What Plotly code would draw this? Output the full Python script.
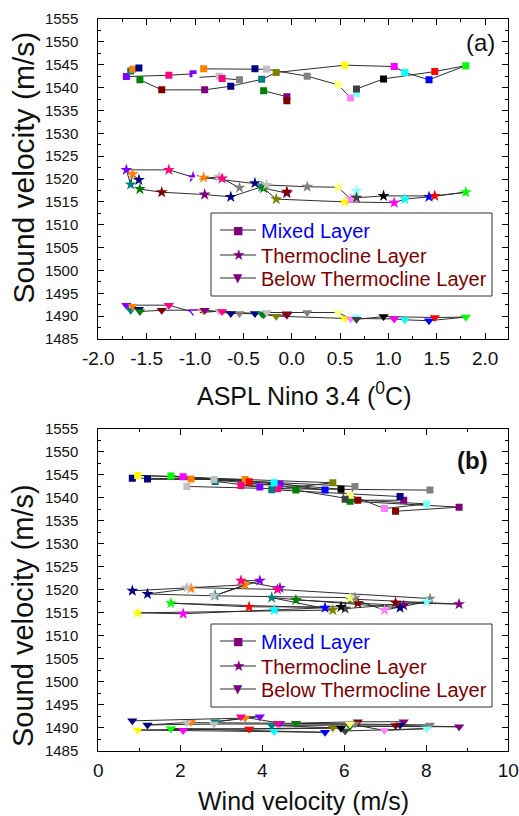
import plotly.graph_objects as go

# ---------------- data (one entry per record) ----------------
POINT_COLORS = [
    "#8000FF", "#008080", "#FF8000", "#000080", "#008000", "#800000", "#FF0080", "#8000FF",
    "#FFFFFF", "#FF8000", "#800080", "#C0C0C0", "#FF0080", "#808080", "#000080", "#000080",
    "#008080", "#008000", "#C0C0C0", "#808000", "#800080", "#800000", "#808080", "#FFFF00",
    "#FFFF80", "#FF80FF", "#80FFFF", "#404040", "#000000", "#FF00FF", "#00FFFF", "#0000FF",
    "#FF0000", "#00FF00",
]
NINO = [
    -1.71, -1.665, -1.644, -1.58, -1.57, -1.344, -1.27, -1.02,
    -0.99, -0.91, -0.90, -0.75, -0.72, -0.54, -0.63, -0.38,
    -0.31, -0.29, -0.26, -0.16, -0.05, -0.05, 0.16, 0.55,
    0.48, 0.61, 0.67, 0.67, 0.95, 1.06, 1.17, 1.42,
    1.48, 1.80,
]
WIND = [
    3.94, 2.85, 3.58, 0.83, 4.82, 6.33, 3.48, 4.43,
    None, 2.26, 7.45, 2.16, 4.37, 8.09, 7.36, 1.20,
    4.23, 6.14, 2.82, 5.72, 8.80, 7.25, 6.26, 0.96,
    6.14, 6.98, 8.01, 6.02, 5.92, 2.07, 4.29, 5.53,
    3.68, 1.77,
]
MIXED = [
    1542.4, 1543.6, 1544.0, 1544.3, 1541.7, 1539.5, 1542.7, 1543.0,
    1542.2, 1544.1, 1539.5, 1542.5, 1542.0, 1541.7, 1540.3, 1544.1,
    1541.8, 1539.3, 1544.0, 1543.3, 1538.0, 1537.1, 1542.5, 1544.9,
    1540.6, 1537.7, 1538.7, 1539.7, 1541.9, 1544.6, 1543.3, 1541.7,
    1543.5, 1544.8,
]
THERMO = [
    1522.0, 1518.8, 1521.1, 1519.8, 1517.8, 1517.1, 1522.0, 1520.4,
    1519.9, 1520.3, 1516.6, 1520.5, 1520.1, 1518.1, 1516.1, 1519.1,
    1518.3, 1518.0, 1518.7, 1515.6, 1516.9, 1517.2, 1518.3, 1515.0,
    1518.2, 1515.6, 1517.4, 1515.9, 1516.3, 1514.8, 1515.6, 1516.1,
    1516.3, 1517.1,
]
BELOW = [
    1492.4, 1491.3, 1492.1, 1491.5, 1491.0, 1491.3, 1492.4, 1491.0,
    1490.7, 1491.2, 1491.3, 1491.1, 1491.0, 1490.6, 1490.6, 1490.6,
    1490.5, 1490.3, 1490.8, 1490.0, 1490.2, 1490.5, 1490.8, 1489.5,
    1490.8, 1489.4, 1489.8, 1489.3, 1489.9, 1489.4, 1489.2, 1489.0,
    1489.7, 1489.8,
]
# order in which records are joined by lines (1-based, None = break)
LINE_ORDER = [4, 3, 2, 1, 7, 8, 9, 12, 13, 14, None,
              5, 6, 11, 15, 17, 20, 24, 30, 31, 32, 34, None,
              10, 16, 19, 23, 25, 26, 27, 28, 29, 33, 34, None,
              18, 21, 22]

LAYER_NAMES = ["Mixed Layer", "Thermocline Layer", "Below Thermocline Layer"]
LAYER_TEXT_COLORS = ["#0000FF", "#800000", "#800000"]
LEGEND_GLYPHS = ["\u25A0", "\u2605", "\u25BC"]

NINO_TICKS = [-2.0, -1.5, -1.0, -0.5, 0.0, 0.5, 1.0, 1.5, 2.0]
NINO_TICK_TEXT = ["-2.0", "-1.5", "-1.0", "-0.5", "0.0", "0.5", "1.0", "1.5", "2.0"]
WIND_TICKS = [0, 2, 4, 6, 8, 10]
VEL_TICKS = [1485, 1490, 1495, 1500, 1505, 1510, 1515, 1520, 1525, 1530, 1535, 1540, 1545, 1550, 1555]

FONT = "Liberation Sans, Arial, sans-serif"
SYMBOLS = ["square", "star", "triangle-down"]
SIZES = [7, 9, 9]
LINE_COLOR = "#2e2e2e"

layers = [MIXED, THERMO, BELOW]

fig = go.Figure()


def pick(arr, order):
    return [arr[i - 1] if i is not None else None for i in order]


for panel, (xs, xa, ya) in enumerate([(NINO, "x", "y"), (WIND, "x2", "y2")]):
    for li, vals in enumerate(layers):
        fig.add_trace(go.Scatter(
            x=pick(xs, LINE_ORDER), y=pick(vals, LINE_ORDER), mode="lines",
            line=dict(color=LINE_COLOR, width=1), connectgaps=False,
            xaxis=xa, yaxis=ya, showlegend=False, hoverinfo="skip"))
    for li, vals in enumerate(layers):
        fig.add_trace(go.Scatter(
            x=xs, y=vals, mode="markers", name=LAYER_NAMES[li],
            marker=dict(symbol=SYMBOLS[li], size=SIZES[li], color=POINT_COLORS,
                        line=dict(width=0)),
            xaxis=xa, yaxis=ya, showlegend=False))

W, H = 519, 816
X0, X1 = 98.3 / W, 508.3 / W

common = dict(showline=True, linecolor="black", linewidth=1, mirror="ticks",
              ticks="inside", ticklen=6, tickwidth=1, tickcolor="black",
              showgrid=False, zeroline=False, automargin=False)
minor_common = dict(ticks="inside", ticklen=3, tickwidth=1, tickcolor="black", showgrid=False)

fig.update_layout(
    width=W, height=H, margin=dict(l=0, r=0, t=0, b=0, autoexpand=False),
    paper_bgcolor="white", plot_bgcolor="white", showlegend=False,
    font=dict(family=FONT, color="#111111"),
    xaxis=dict(common, domain=[X0, X1], anchor="y", range=[-2.0, 2.24],
               tickmode="array", tickvals=NINO_TICKS, ticktext=NINO_TICK_TEXT,
               minor=dict(minor_common, tickmode="linear", tick0=-2.0, dtick=0.25),
               tickfont=dict(size=19), ticklabelstandoff=2),
    yaxis=dict(common, domain=[1 - 339 / H, 1 - 19 / H], anchor="x", range=[1485, 1555],
               tickmode="array", tickvals=VEL_TICKS,
               minor=dict(minor_common, tickmode="linear", tick0=1485, dtick=2.5),
               tickfont=dict(size=15), ticklabelstandoff=16),
    xaxis2=dict(common, domain=[X0, X1], anchor="y2", range=[0, 10],
                tickmode="array", tickvals=WIND_TICKS,
                minor=dict(minor_common, tickmode="linear", tick0=0, dtick=1),
                tickfont=dict(size=19), ticklabelstandoff=2),
    yaxis2=dict(common, domain=[1 - 750.7 / H, 1 - 429 / H], anchor="x2", range=[1485, 1555],
                tickmode="array", tickvals=VEL_TICKS,
                minor=dict(minor_common, tickmode="linear", tick0=1485, dtick=2.5),
                tickfont=dict(size=15), ticklabelstandoff=16),
)

ann = [
    dict(text="Sound velocity (m/s)", x=23 / W, y=1 - 167.5 / H, textangle=-90,
         font=dict(size=30, family=FONT), xanchor="center", yanchor="middle"),
    dict(text="Sound velocity (m/s)", x=23 / W, y=1 - 616 / H, textangle=-90,
         font=dict(size=29, family=FONT), xanchor="center", yanchor="middle"),
    dict(text="ASPL Nino 3.4 (<sup>0</sup>C)", x=303.5 / W, y=1 - 394 / H,
         font=dict(size=25, family=FONT), xanchor="center", yanchor="middle"),
    dict(text="Wind velocity (m/s)", x=303.5 / W, y=1 - 801 / H,
         font=dict(size=25, family=FONT), xanchor="center", yanchor="middle"),
    dict(text="(a)", x=480 / W, y=1 - 42.5 / H,
         font=dict(size=24, family=FONT), xanchor="center", yanchor="middle"),
    dict(text="<b>(b)</b>", x=472.5 / W, y=1 - 460 / H,
         font=dict(size=24, family=FONT), xanchor="center", yanchor="middle"),
]
shapes = []

# legend boxes (pixel layout of the boxes, one per panel)
GLYPH_SIZES = [11, 15, 12]
for top, bottom, rows in [(213, 296, (230, 255, 278)), (624, 707, (641, 666, 689))]:
    shapes.append(dict(type="rect", xref="paper", yref="paper", layer="above",
                       x0=211 / W, x1=492 / W, y0=1 - bottom / H, y1=1 - top / H,
                       line=dict(color="#333333", width=1), fillcolor="white"))
    for li, ry in enumerate(rows):
        shapes.append(dict(type="line", xref="paper", yref="paper", layer="above",
                           x0=220 / W, x1=256 / W, y0=1 - ry / H, y1=1 - ry / H,
                           line=dict(color=LINE_COLOR, width=1)))
        ann.append(dict(text=LEGEND_GLYPHS[li], x=238 / W, y=1 - ry / H,
                        xanchor="center", yanchor="middle",
                        font=dict(size=GLYPH_SIZES[li], family="DejaVu Sans", color="#800080")))
        ann.append(dict(text=LAYER_NAMES[li], x=259 / W, y=1 - (ry + 0.5) / H,
                        xanchor="left", yanchor="middle",
                        font=dict(size=20, family=FONT, color=LAYER_TEXT_COLORS[li])))

for a in ann:
    a.update(xref="paper", yref="paper", showarrow=False)
fig.update_layout(annotations=ann, shapes=shapes)

fig.write_html("out.html", config={"displayModeBar": False},
               post_script="document.body.style.margin='0px';"
                           "document.body.style.overflow='hidden';")
